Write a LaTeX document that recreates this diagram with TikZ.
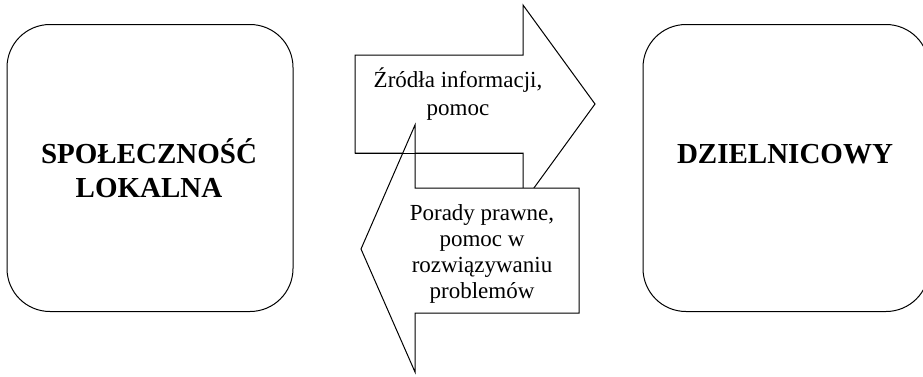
\documentclass[tikz,border=0pt]{standalone}
\usepackage{fontspec}
\setmainfont{Liberation Serif}
\begin{document}
\begin{tikzpicture}[x=1pt,y=-1pt,
  box/.style={draw, line width=1pt, rounded corners=43pt, minimum width=286pt, minimum height=287pt, inner sep=0pt},
  bigtext/.style={font=\fontsize{29}{34}\selectfont\bfseries, align=center, inner sep=0pt, anchor=base},
  smalltext/.style={font=\fontsize{23}{27}\selectfont, align=center, inner sep=0pt, anchor=base},
  blockarrow/.style={draw, line width=1pt, line join=miter}]
\clip (0,0) rectangle (923,376);
% boxes
\node[box] (spol) at (150,168) {};
\node[box] (dziel) at (786,168) {};
\node[bigtext] (spoltxt) at (149,197) {SPOŁECZNOŚĆ\\LOKALNA};
\node[bigtext] (dzieltxt) at (785,163) {DZIELNICOWY};
% arrow 1 (to the right)
\coordinate (a1) at (355,55);
\coordinate (a2) at (523,55);
\coordinate (a3) at (523,5);
\coordinate (a4) at (595,104);
\coordinate (a5) at (523,203);
\coordinate (a6) at (523,153);
\coordinate (a7) at (355,153);
\draw[blockarrow] (a1) -- (a2) -- (a3) -- (a4) -- (a5) -- (a6) -- (a7) -- cycle;
% arrow 2 (to the left)
\coordinate (b1) at (579,188);
\coordinate (b2) at (415,188);
\coordinate (b3) at (415,125);
\coordinate (b4) at (361,249);
\coordinate (b5) at (415,372);
\coordinate (b6) at (415,313);
\coordinate (b7) at (579,313);
\draw[blockarrow, fill=white] (b1) -- (b2) -- (b3) -- (b4) -- (b5) -- (b6) -- (b7) -- cycle;
\draw[blockarrow] (a7) -- (a6);
% labels
\node[smalltext, font=\fontsize{23}{28}\selectfont] (info) at (458,115) {Źródła informacji,\\pomoc};
\node[smalltext, font=\fontsize{23}{26}\selectfont] (porady) at (482,298) {Porady prawne,\\pomoc w\\rozwiązywaniu\\problemów};
\end{tikzpicture}
\end{document}
